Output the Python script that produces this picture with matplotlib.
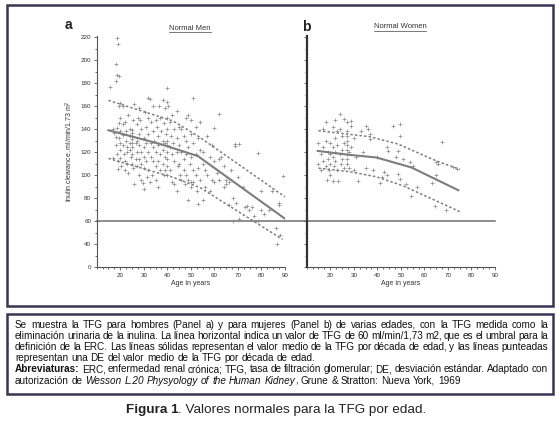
import matplotlib
matplotlib.use("Agg")
import matplotlib.pyplot as plt
from matplotlib.lines import Line2D
from matplotlib.patches import Rectangle
from matplotlib.ticker import FixedLocator, MultipleLocator

W, H = 560, 428
plt.rcParams["font.family"] = ["Liberation Sans", "DejaVu Sans"]

# --- datos ---
men_age = [
    15.5, 18.5, 18.9, 18.4, 18.6, 19.3, 18.0, 17, 17.5, 18, 18, 18.5, 19, 19, 19.5, 19.5, 20, 20, 20, 20,
    20, 20, 20.5, 17, 18.5, 19.5,
    21, 21, 21, 21, 21.5, 22, 22, 22, 22.5, 22.5, 23, 23, 23, 23.5, 23.5, 24, 24, 24, 24, 24.5, 25, 25,
    25, 25, 25, 25, 25, 25, 25.5, 25.5, 26, 26, 26.5, 26.5,
    27, 27, 27, 27, 27.5, 28, 28, 28, 28, 28, 28.5, 29, 29, 29, 29, 29.5, 30, 30, 30, 30, 30, 30.5, 31,
    31, 31, 31.5, 32, 32.5, 32, 32, 32, 32, 32.5,
    33, 33, 33, 33.5, 34, 34, 34, 34, 34.5, 35, 35, 35, 35, 35.5, 36, 36, 36, 36, 36.5, 37, 37, 37,
    37.5, 38, 38, 38, 38, 38.5, 38.5,
    39, 39, 39, 39, 39.5, 40, 40, 40, 40, 40, 40, 40, 40, 40, 40, 40.5, 41, 41, 41, 41.5, 42, 42, 42,
    42.5, 43, 43, 43, 44, 44, 44, 44, 44.5,
    45, 45, 45, 45.5, 46, 46, 46, 47, 47, 47, 47.5, 48, 48, 48, 48, 49, 49, 49, 49, 49.5, 50, 50, 50,
    50, 50,
    51, 51, 51, 51, 52, 52, 52, 52.5, 53, 53, 53, 54, 54, 54, 55, 55, 55, 56, 56, 57, 57, 58, 58,
    59, 59, 60, 60, 60, 61, 62, 62, 62, 63, 64, 64, 65, 65, 66, 66, 67, 68, 68.8, 68.8, 70.6, 68, 70.5,
    70, 69,
    72, 73, 74, 74.5, 76, 77, 78.4, 78.7, 80, 80, 81, 83, 84.4, 86, 86.8, 87.4, 87.4, 89, 88,
]
men_gfr = [
    177, 219, 214, 197, 187, 186, 182, 140, 137, 133, 126, 118, 112, 105, 145, 160, 163, 150, 138, 128,
    122, 115, 108, 115, 141, 132,
    160, 144, 135, 126, 118, 112, 104, 146, 138, 130, 124, 120, 110, 152, 102, 140, 134, 128, 122, 116,
    139, 137, 134, 131, 128, 124, 118, 110, 106, 148, 92, 162, 128, 114,
    144, 130, 120, 108, 150, 158, 136, 126, 114, 100, 148, 140, 120, 110, 96, 93, 88, 132, 124, 116,
    106, 155, 142, 128, 112, 98, 167, 166, 150, 136, 120, 104, 94,
    146, 128, 116, 100, 160, 138, 124, 112, 130, 148, 120, 108, 96, 142, 134, 126, 112, 90, 160, 150,
    118, 104, 138, 165, 130, 122, 110, 100, 145,
    158, 128, 116, 104, 136, 176, 164, 150, 140, 130, 126, 120, 114, 108, 100, 160, 146, 124, 104, 134,
    152, 118, 94, 128, 140, 112, 92, 156, 132, 120, 86, 108,
    142, 126, 110, 100, 140, 120, 96, 134, 114, 104, 92, 150, 130, 118, 100, 152, 124, 96, 78, 110,
    148, 136, 116, 94, 90,
    167, 128, 104, 94, 142, 118, 100, 86, 132, 106, 75, 146, 122, 96, 120, 110, 78, 104, 90, 134, 100,
    116, 86,
    126, 96, 141, 112, 94, 102, 153, 114, 96, 116, 108, 90, 96, 92, 94, 74, 104, 80, 127, 125, 127, 60,
    62, 98, 76,
    90, 72, 73, 70, 72, 64, 119, 60, 86, 70, 66, 70, 86, 54, 40, 76, 74, 99, 48,
]

women_age = [
    15, 15, 16, 16, 17, 17, 17, 18, 18, 18, 18.6, 19, 19, 19.5, 20, 20, 20, 20, 21, 21, 21, 21.2, 21.5,
    22, 22, 22, 22, 23, 23, 23, 23.3, 24, 24, 24, 24.5, 25, 25, 25, 26, 26, 26, 27, 27, 27, 27, 27, 27,
    27, 27, 27, 28, 28, 29, 29, 29, 30, 30, 31, 31.8, 33, 34, 35, 35, 36, 37, 37, 38, 40, 41, 42, 43,
    44, 44.5, 44, 46.7, 48, 48.8, 48.8, 49.5, 49.5, 49.5, 51, 52, 53.8, 54.5, 55, 57, 63.3, 64.4, 65.1,
    65.6, 65, 67.3, 69, 72.3, 74,
]
women_gfr = [
    128, 110, 118, 104, 140, 124, 112, 146, 130, 108, 95.6, 120, 114, 104, 128, 118, 110, 100, 142, 124,
    116, 94.6, 108, 148, 132, 120, 112, 138, 126, 104, 95, 153, 140, 118, 110, 134, 122, 114, 149, 128,
    106, 146, 138, 134, 130, 126, 122, 118, 114, 110, 120, 106, 147, 143, 124, 132, 104, 116, 95, 138,
    120, 143, 106, 140, 136, 131, 104, 116, 93, 98, 103, 124, 121, 100, 143, 116, 121, 101, 144, 134,
    96.5, 114, 92, 111.5, 82, 108, 90, 93, 73, 111.5, 110, 100, 129, 70, 106.6, 105,
]

# medias y +/- 1 DE por decada
men_mean_age = [15, 37, 53, 90]
men_mean_gfr = [139, 127, 116.5, 62]
men_hi_age = [15, 42.5, 53, 90]
men_hi_gfr = [165, 147, 134, 81]
men_lo_age = [15, 42.5, 54, 89]
men_lo_gfr = [114.5, 98, 89, 44]

women_mean_age = [14.7, 27.5, 39.6, 54.5, 74.4]
women_mean_gfr = [121, 117.7, 115.3, 106.6, 86.8]
women_hi_age = [15, 36.7, 48.8, 65, 75]
women_hi_gfr = [138.6, 133.4, 127, 112.4, 105]
women_lo_age = [15, 28, 39.6, 51, 75]
women_lo_gfr = [106, 103, 98.5, 90.6, 68.2]

threshold = 60
y_ticks = [20, 40, 60, 80, 100, 120, 140, 160, 180, 200, 220]
y_tick_labels = ["0", "40", "60", "80", "100", "120", "140", "160", "180", "200", "220"]
x_ticks = [20, 30, 40, 50, 60, 70, 80, 90]

caption_lines = [
    [("Se muestra la TFG para hombres (Panel a) y para mujeres (Panel b) de varias edades, con la TFG  medida como la", "n")],
    [("eliminación urinaria de la inulina. La línea horizontal indica un valor de TFG de 60 ml/min/1,73 m2, que es el umbral para la", "n")],
    [("definición de la ERC. Las líneas sólidas representan el valor medio de la TFG por década de edad, y las líneas punteadas", "n")],
    [("representan una DE del valor medio de la TFG por década de edad.", "n")],
    [("Abreviaturas:", "b"), ("ERC, enfermedad renal crónica; TFG, tasa de filtración glomerular; DE, desviación estándar. Adaptado con", "n")],
    [("autorización de", "n"), ("Wesson L.20 Physyology of the Human Kidney", "i"), (", Grune & Stratton: Nueva York, 1969", "n")],
]
caption_justify = [True, True, True, False, True, False]

BORDER = "#3b3354"
GREY_PT = "#8a8a8a"
GREY_LN = "#7d7d7d"
AXC = "#555555"


def fx(x):
    return x / W


def fy(y):
    return 1 - y / H


fig = plt.figure(figsize=(W / 100, H / 100), dpi=100)
fig.patch.set_facecolor("white")

# marcos
fig.add_artist(Rectangle((fx(7), fy(306)), fx(553) - fx(7), fy(5) - fy(306), transform=fig.transFigure,
                         fill=False, edgecolor=BORDER, linewidth=1.8))
fig.add_artist(Rectangle((fx(7), fy(394)), fx(553) - fx(7), fy(314) - fy(394), transform=fig.transFigure,
                         fill=False, edgecolor=BORDER, linewidth=1.8))

ax_a = fig.add_axes([fx(96.7), fy(267), fx(285) - fx(96.7), fy(36) - fy(267)])
ax_b = fig.add_axes([fx(306.7), fy(267), fx(495) - fx(306.7), fy(36) - fy(267)])

panels = [
    (ax_a, men_age, men_gfr, (men_mean_age, men_mean_gfr), (men_hi_age, men_hi_gfr), (men_lo_age, men_lo_gfr)),
    (ax_b, women_age, women_gfr, (women_mean_age, women_mean_gfr), (women_hi_age, women_hi_gfr),
     (women_lo_age, women_lo_gfr)),
]
for ax, ages, gfr, mean, hi, lo in panels:
    ax.scatter(ages, gfr, marker="+", s=5, linewidths=0.5, color=GREY_PT, zorder=2)
    ax.plot(*mean, color=GREY_LN, linewidth=1.5, zorder=3)
    ax.plot(*hi, color=GREY_LN, linewidth=1.1, linestyle=(0, (1.6, 1.4)), zorder=3)
    ax.plot(*lo, color=GREY_LN, linewidth=1.1, linestyle=(0, (1.6, 1.4)), zorder=3)
    ax.set_xlim(10, 90)
    ax.set_ylim(20, 221)
    for s in ["top", "right"]:
        ax.spines[s].set_visible(False)
    ax.spines["left"].set_color(AXC)
    ax.spines["bottom"].set_color(AXC)
    ax.spines["left"].set_linewidth(0.8)
    ax.spines["bottom"].set_linewidth(0.8)
    ax.xaxis.set_major_locator(FixedLocator(x_ticks))
    ax.xaxis.set_minor_locator(MultipleLocator(2.5))
    ax.yaxis.set_major_locator(FixedLocator(y_ticks))
    ax.yaxis.set_minor_locator(MultipleLocator(10))
    ax.tick_params(which="both", direction="out", color=AXC, width=0.6, labelsize=4.5,
                   labelcolor="#333333", pad=1.5)
    ax.tick_params(which="major", length=2.5)
    ax.tick_params(which="minor", length=1.5)
    ax.set_xlabel("Age in years", fontsize=5, color="#333333", labelpad=2)
    ax.patch.set_alpha(0)

ax_a.set_yticklabels(y_tick_labels)
ax_b.set_yticklabels([])
ax_b.spines["left"].set_linewidth(1.6)
ax_b.spines["left"].set_color("#333333")
ax_a.set_ylabel("Inulin clearance, ml/min/1.73 m$^2$", fontsize=5, color="#333333", labelpad=3)

# linea umbral continua a traves de ambos paneles
span = (306.7 - 96.7) / (285 - 96.7) + 1.0
ax_a.axhline(threshold, xmin=0, xmax=span, color="#6f6f6f", linewidth=1.1, clip_on=False, zorder=1)

fig.text(fx(68), fy(25), "a", fontsize=10, fontweight="bold", ha="center", va="center", color="#222222")
fig.text(fx(306), fy(27), "b", fontsize=10, fontweight="bold", ha="center", va="center", color="#222222")

renderer = fig.canvas.get_renderer()

for title, cx, cy in [("Normal Men", 190, 28), ("Normal Women", 400, 27)]:
    t = fig.text(fx(cx), fy(cy), title, fontsize=5.5, ha="center", va="center", color="#333333")
    bb = t.get_window_extent(renderer)
    fig.add_artist(Line2D([bb.x0 / W, bb.x1 / W], [(bb.y0 - 0.5) / H] * 2, transform=fig.transFigure,
                          color="#444444", linewidth=0.5))

# texto de la leyenda, justificado
styles = {"n": {}, "b": {"fontweight": "bold"}, "i": {"fontstyle": "italic"}}
x_left, x_right = 15, 548
for i, (runs, justify) in enumerate(zip(caption_lines, caption_justify)):
    y = 324.5 + 11.2 * i
    words = []
    for run, st in runs:
        for k, w in enumerate(run.split()):
            # signo de puntuacion pegado a la palabra anterior
            glue = k == 0 and run[0] in ",.;:"
            words.append((w, st, glue))
    artists = []
    for w, st, glue in words:
        a = fig.text(0, fy(y), w, fontsize=7.2, ha="left", va="center", color="#111111", **styles[st])
        artists.append((a, a.get_window_extent(renderer).width, glue))
    n_gaps = sum(1 for _, _, g in artists[1:] if not g)
    total = sum(w for _, w, _ in artists)
    gap = (x_right - x_left - total) / n_gaps if justify else 2.8
    x = x_left
    for j, (a, w, glue) in enumerate(artists):
        if j > 0:
            x += 0 if glue else gap
        a.set_x(fx(x))
        x += w

# pie de figura
t1 = fig.text(0, fy(410), "Figura 1", fontsize=9.7, fontweight="bold", ha="left", va="center", color="#222222")
t2 = fig.text(0, fy(410), ". Valores normales para la TFG por edad.", fontsize=9.7, ha="left", va="center",
              color="#222222")
w1 = t1.get_window_extent(renderer).width
w2 = t2.get_window_extent(renderer).width
x0 = 276 - (w1 + w2) / 2
t1.set_x(fx(x0))
t2.set_x(fx(x0 + w1))

fig.savefig("out.png", dpi=100, facecolor="white")
